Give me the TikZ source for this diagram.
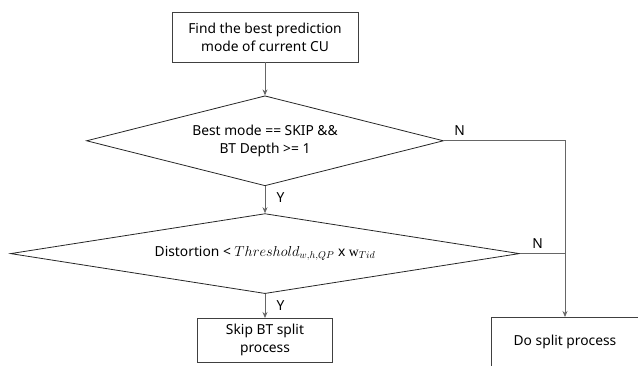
\documentclass[tikz,border=0pt]{standalone}
\usepackage{fontspec}
\setmainfont{Noto Sans}
\newfontfamily\serifw{Liberation Serif}
\usetikzlibrary{positioning,shapes.geometric,arrows.meta}

\begin{document}
\begin{tikzpicture}[
			x=1pt, y=-1pt,
			node distance=30pt,
			font=\fontsize{13.8}{18}\selectfont,
			procbox/.style={draw=black!75, rectangle, align=center, inner sep=0pt, line width=0.8pt},
			decision/.style={draw=black!85, diamond, align=center, inner sep=0pt, line width=0.8pt},
			flow/.style={draw=black!60, line width=0.8pt, -{Stealth[length=6pt,width=5pt]}},
			flow_plain/.style={draw=black!60, line width=0.8pt},
			branch/.style={font=\fontsize{13.8}{15}\selectfont}
			]
			\useasboundingbox (0,0) rectangle (638,366);
			
			% Start box
			\node[procbox, minimum width=186pt, minimum height=50pt] (find) at (265,37) {Find the best prediction\\mode of current CU};
			
			% Decisions
			\node[decision, aspect=3.97, minimum width=357pt, minimum height=90pt, below=33pt of find] (skipchk) {Best mode == SKIP \&\&\\BT Depth >= 1};
			\node[decision, aspect=6.36, minimum width=509pt, minimum height=80pt, below=27pt of skipchk] (distchk) {Distortion < $Threshold_{w,h,QP}$ x {\serifw w}$_{Tid}$};
			
			% End boxes
			\node[procbox, minimum width=135pt, minimum height=44pt, below=24pt of distchk] (skipbt) {Skip BT split\\process};
			\node[procbox, minimum width=147pt, minimum height=50pt, anchor=north] (dosplit) at (565,317) {Do split process};
			
			% Right side line
			\coordinate (nline) at (dosplit.north |- skipchk.east);
			
			% Connections
			\draw[flow] (find) -- (skipchk);
			\draw[flow] (skipchk) -- (distchk);
			\draw[flow] (distchk) -- (skipbt);
			\draw[flow] (skipchk.east) -- (nline) -- (dosplit.north);
			\draw[flow_plain] (distchk.east) -- (distchk.east -| nline);
			
			% Branch labels
			\node[branch, above right=2pt and 7pt of skipchk.east] {N};
			\node[branch, above right=2pt and 9pt of distchk.east] {N};
			\node[branch, below right=3pt and 8pt of skipchk.south] {Y};
			\node[branch, below right=3pt and 8pt of distchk.south] {Y};
			
		\end{tikzpicture}
\end{document}
